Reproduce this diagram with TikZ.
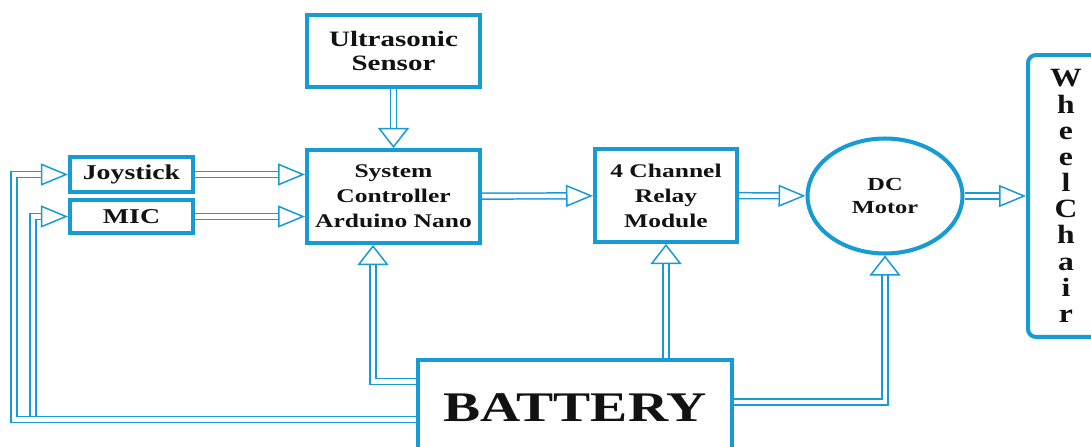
\documentclass[tikz,border=0pt]{standalone}
\usepackage{fontspec}
\setmainfont{Liberation Serif}
\newfontfamily\boxfont{Liberation Serif}[FakeStretch=1.32]
\newfontfamily\chairfont{Liberation Serif}[FakeStretch=1.2]
\usetikzlibrary{arrows.meta,shapes.geometric,calc}

\definecolor{boxblue}{RGB}{22,155,212}

\tikzset{
  block/.style={draw=boxblue, line width=2.3pt, fill=white, align=center,
    inner sep=0pt, text=black!93},
  link/.style={draw=boxblue, line width=0.85pt, double=white, double distance=2.5pt},
  htip/.tip={Triangle[open, fill=white, length=0.54cm, width=0.44cm, line width=0.85pt]},
  vtip/.tip={Triangle[open, fill=white, length=0.40cm, width=0.62cm, line width=0.85pt]},
}

\begin{document}
\begin{tikzpicture}[x=0.02cm, y=-0.02cm]

  \useasboundingbox (0,0) rectangle (1091,446);
  \clip (0,0) rectangle (1091,446);

  % blocks
  \node[block, minimum width=3.46cm, minimum height=1.44cm,
    font=\boxfont\bfseries\fontsize{12.5}{14.2}\selectfont] (sensor) at (393.5,51) {Ultrasonic\\Sensor};
  \node[block, minimum width=3.46cm, minimum height=1.86cm,
    font=\boxfont\bfseries\fontsize{11}{14.2}\selectfont] (ctrl) at (393.5,196.5) {System\\Controller\\Arduino Nano};
  \node[block, minimum width=2.46cm, minimum height=0.70cm,
    font=\boxfont\bfseries\fontsize{12}{14}\selectfont] (joy) at (131.5,174.5) {Joystick};
  \node[block, minimum width=2.46cm, minimum height=0.66cm,
    font=\boxfont\bfseries\fontsize{12}{14}\selectfont] (mic) at (131.5,216.5) {MIC};
  \node[block, minimum width=2.84cm, minimum height=1.86cm,
    font=\boxfont\bfseries\fontsize{11}{14.2}\selectfont] (relay) at (666,195.5) {4 Channel\\Relay\\Module};
  \node[block, ellipse, minimum width=3.10cm, minimum height=2.30cm,
    font=\boxfont\bfseries\fontsize{10.5}{13.6}\selectfont] (motor) at (885,196) {DC\\Motor};
  \node[block, rounded corners=0.16cm, minimum width=1.52cm, minimum height=5.64cm,
    font=\chairfont\bfseries\fontsize{15}{14.9}\selectfont] (chair) at (1066,196)
    {W\\h\\e\\e\\l\\C\\h\\a\\i\\r};
  \node[block, minimum width=6.28cm, minimum height=1.90cm,
    font=\boxfont\bfseries\fontsize{24}{28}\selectfont] (battery) at (575,407.5) {BATTERY};

  % signal path
  \draw[link, -{vtip}] (sensor) -- (ctrl);
  \draw[link, -{htip}] (joy.east) -- (ctrl.west |- joy.east);
  \draw[link, -{htip}] (mic.east) -- (ctrl.west |- mic.east);
  \draw[link, -{htip}] (ctrl) -- (relay);
  \draw[link, -{htip}] (relay) -- (motor);
  \draw[link, -{htip}] (motor) -- (chair);

  % supply lines
  \coordinate (split) at (33,419.5);
  \draw[link, -{htip}] (split) |- (mic.west);
  \draw[link, -{htip}] ($(battery.west)+(0,12)$) -| ($(joy.west)+(-54,0)$) -- (joy.west);
  \draw[link, -{vtip}] ($(battery.west)+(0,-26)$) -| ($(ctrl.south)+(-20.5,0)$);
  \draw[link, -{vtip}] (relay.south |- battery.north) -- (relay.south);
  \draw[link, -{vtip}] ($(battery.east)+(0,-5.5)$) -| (motor.south);

\end{tikzpicture}
\end{document}
